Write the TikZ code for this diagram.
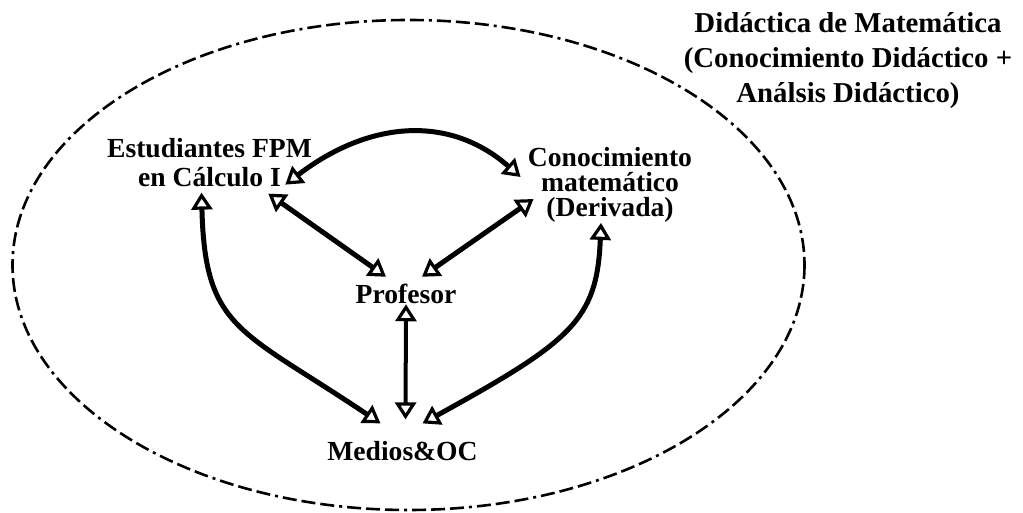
\documentclass[tikz,border=0pt]{standalone}
\usepackage{fontspec}
\setmainfont{Liberation Serif}
\usetikzlibrary{arrows.meta,calc}

\begin{document}
\begin{tikzpicture}[
    x=0.5pt, y=-0.5pt,
    inner sep=0pt,
    actor/.style={align=center, font=\fontsize{13.8}{14.5}\selectfont\bfseries},
    heading/.style={align=center, font=\fontsize{14.4}{17.5}\selectfont\bfseries},
    link/.style={line width=2.5pt, <->, >={Triangle[open, length=8.5pt, width=10.5pt, line width=1.6pt]}},
    border/.style={line width=1.3pt, dash pattern=on 7pt off 2.5pt on 7pt off 2.5pt on 7pt off 2.5pt on 1.5pt off 2.5pt}
]
    \useasboundingbox (0,0) rectangle (1023,513);

    \draw [border] (408.5,265) ellipse [x radius=396, y radius=245];

    \node [heading] (ttl) at (848,61) {Didáctica de Matemática\\(Conocimiento Didáctico +\\Análsis Didáctico)};

    \node [actor] (est) at (209.5,163) {Estudiantes FPM\\en Cálculo I\hspace{1.2em}};
    \node [actor, font=\fontsize{13.8}{12.5}\selectfont\bfseries] (con) at (610,185) {Conocimiento\\matemático\\(Derivada)};
    \node [actor] (prof) at (406,294) {Profesor};
    \node [actor] (med) at (402.5,451.5) {Medios\&OC};

    \draw [link] ($(est.south east)+(-27,-3)$) .. controls (370,120) and (450,115) .. ($(con.west)+(-7,-8)$);
    \draw [link] ($(est.south east)+(-44,6)$) -- ($(prof.north)+(-20,-7)$);
    \draw [link] ($(con.west)+(6,14)$) -- ($(prof.north)+(16,-7)$);
    \draw [link, line width=2pt] (prof.south) -- ($(med.north)+(3,-22)$);
    \draw [link] ($(est.south)+(-8,5)$) .. controls (205,330) and (240,329) .. ($(med.north)+(-22,-18)$);
    \draw [link] ($(con.south)+(-9,0)$) .. controls (597,320) and (572,341) .. ($(med.north)+(20,-18)$);
\end{tikzpicture}
\end{document}
